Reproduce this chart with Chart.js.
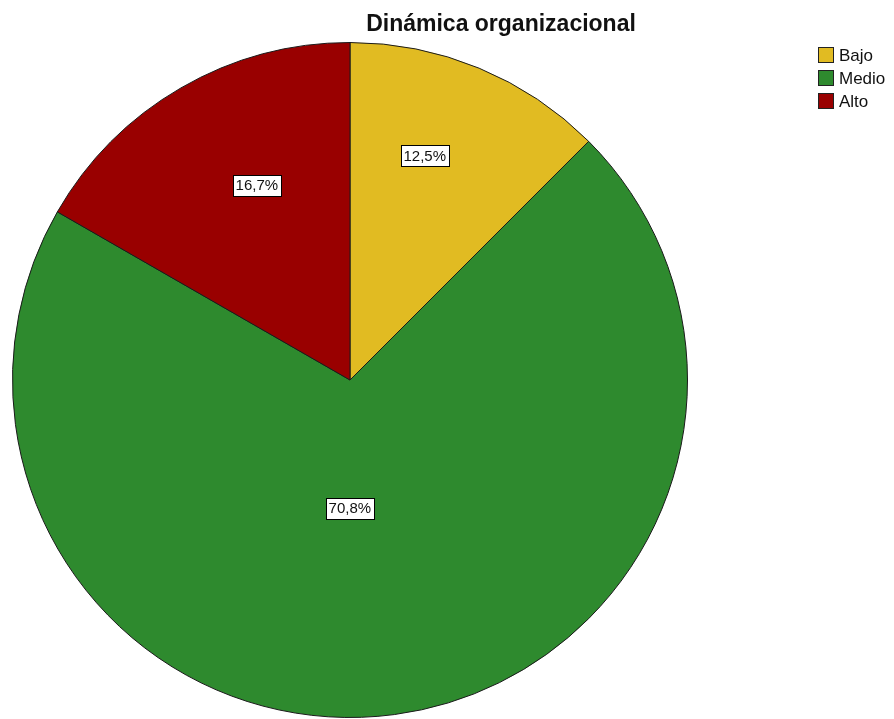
<!DOCTYPE html>
<html>
<head>
<meta charset="utf-8">
<script src="https://cdn.jsdelivr.net/npm/chart.js@4.4.1/dist/chart.umd.min.js"></script>
<style>
  html, body { margin: 0; padding: 0; background: #fff; }
  #wrap { position: relative; width: 894px; height: 719px; }
</style>
</head>
<body>
<div id="wrap"><canvas id="pie"></canvas></div>
<script>
// ── Datos ────────────────────────────────────────────────────────────────
const TITLE      = "Dinámica organizacional"
const CATEGORIES = ["Bajo", "Medio", "Alto"]
const PERCENTS   = [12.5, 70.8, 16.7]
const COLORS     = ["#e1bb22", "#2e8a2e", "#990000"]

// Posición de etiquetas dentro de cada porción (fracción del ángulo, fracción del radio)
const LABEL_ANGLE_FRAC  = [0.41, 0.53, 0.575]
const LABEL_RADIUS_FRAC = [0.70, 0.38, 0.64]

const FONT = "'Liberation Sans', Arial, sans-serif"

const fmt = v => v.toFixed(1).replace(".", ",") + "%"

// Etiquetas con caja blanca, título y leyenda a la derecha
const decorPlugin = {
  id: "decor",
  afterDatasetsDraw(chart) {
    const ctx  = chart.ctx
    const meta = chart.getDatasetMeta(0)
    ctx.save()
    ctx.font = "15px " + FONT
    ctx.textAlign = "center"
    ctx.textBaseline = "middle"
    meta.data.forEach((arc, i) => {
      const p = arc.getProps(["x", "y", "startAngle", "endAngle", "outerRadius"], true)
      const a = p.startAngle + (p.endAngle - p.startAngle) * LABEL_ANGLE_FRAC[i]
      const r = p.outerRadius * LABEL_RADIUS_FRAC[i]
      const x = p.x + Math.cos(a) * r
      const y = p.y + Math.sin(a) * r
      const txt = fmt(chart.data.datasets[0].data[i])
      const w = ctx.measureText(txt).width + 5
      const h = 21
      const bx = Math.round(x - w / 2) + 0.5
      const by = Math.round(y - h / 2) + 0.5
      ctx.fillStyle = "#fff"
      ctx.fillRect(bx, by, Math.round(w), h)
      ctx.strokeStyle = "#000"
      ctx.lineWidth = 1
      ctx.strokeRect(bx, by, Math.round(w), h)
      ctx.fillStyle = "#111"
      ctx.fillText(txt, x, y + 1)
    })

    // Título
    ctx.font = "bold 23px " + FONT
    ctx.fillStyle = "#111"
    ctx.textBaseline = "alphabetic"
    ctx.fillText(TITLE, 501, 31)

    // Leyenda
    ctx.textAlign = "left"
    ctx.textBaseline = "middle"
    ctx.font = "17px " + FONT
    chart.data.labels.forEach((lab, i) => {
      const y = 47 + i * 23
      ctx.fillStyle = COLORS[i]
      ctx.fillRect(818.5, y + 0.5, 15, 15)
      ctx.strokeStyle = "#222"
      ctx.strokeRect(818.5, y + 0.5, 15, 15)
      ctx.fillStyle = "#111"
      ctx.fillText(lab, 839, y + 9)
    })
    ctx.restore()
  }
}

new Chart(document.getElementById("pie"), {
  type: "pie",
  data: {
    labels: CATEGORIES,
    datasets: [{
      data: PERCENTS,
      backgroundColor: COLORS,
      borderColor: "#1a1a1a",
      borderWidth: 1
    }]
  },
  options: {
    responsive: true,
    maintainAspectRatio: false,
    animation: false,
    layout: { padding: { left: 12, right: 206, top: 42, bottom: 1 } },
    plugins: {
      legend: { display: false },
      tooltip: { enabled: false },
      title: { display: false }
    }
  },
  plugins: [decorPlugin]
})
</script>
</body>
</html>
